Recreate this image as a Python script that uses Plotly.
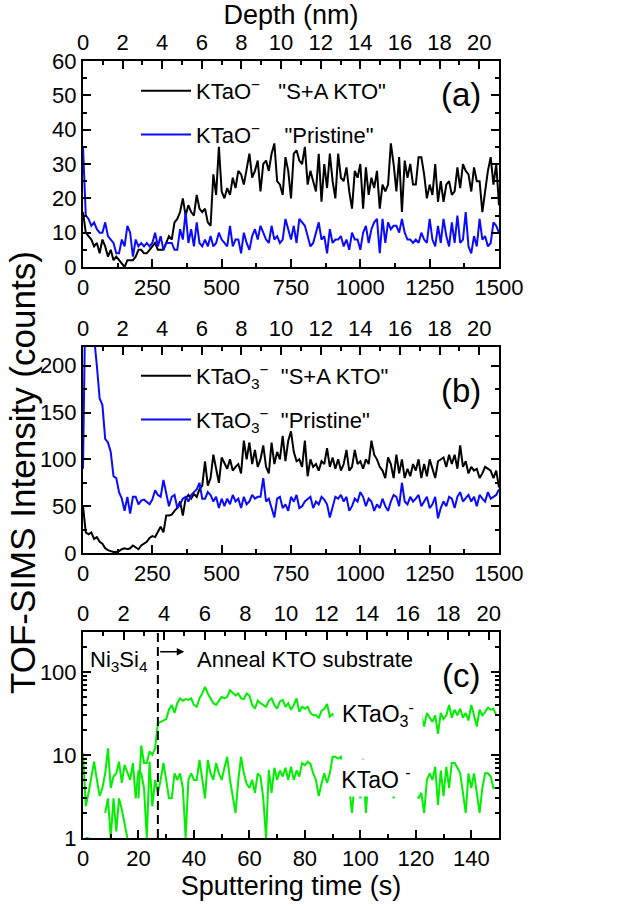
import math
import plotly.graph_objects as go

# ---------------- data ----------------
TIME_AB = list(range(0, 1501, 10))  # sputtering time (s) for panels a, b

KTAO_SA = [16, 10, 9, 8, 6, 7, 4, 8, 6, 3,
           5, 2, 3, 2, 1, 0, 2, 2, 2, 3,
           5, 5, 4, 4, 5, 6, 7, 5, 5, 5,
           7, 9, 8, 13, 14, 16, 20, 15, 18, 16,
           15, 21, 17, 16, 17, 13, 12, 27, 21, 35,
           22, 20, 23, 21, 26, 23, 28, 27, 24, 29,
           33, 26, 28, 31, 22, 30, 31, 28, 33, 36,
           25, 24, 21, 32, 28, 20, 33, 34, 31, 30,
           35, 24, 28, 25, 22, 33, 19, 30, 23, 33,
           25, 20, 33, 26, 25, 29, 22, 17, 28, 26,
           30, 17, 29, 21, 26, 23, 28, 17, 24, 22,
           24, 36, 30, 22, 32, 16, 31, 26, 30, 24,
           24, 32, 32, 27, 20, 24, 21, 30, 19, 25,
           19, 24, 25, 21, 22, 29, 23, 30, 28, 27,
           22, 29, 25, 25, 16, 22, 28, 32, 24, 30,
           18]

KTAO_PR = [35, 15, 14, 12, 13, 11, 10, 10, 13, 9,
           8, 7, 4, 4, 8, 6, 12, 10, 3, 8,
           6, 7, 6, 7, 6, 7, 10, 6, 9, 5,
           7, 7, 7, 5, 5, 11, 8, 16, 7, 11,
           6, 13, 7, 6, 8, 6, 9, 6, 7, 10,
           8, 7, 6, 12, 6, 8, 8, 4, 10, 7,
           5, 9, 11, 8, 12, 10, 8, 7, 12, 8,
           9, 7, 8, 14, 11, 8, 12, 7, 14, 13,
           12, 9, 6, 7, 10, 13, 8, 9, 4, 11,
           7, 8, 8, 9, 6, 8, 5, 10, 8, 8,
           5, 10, 12, 7, 11, 13, 14, 4, 14, 7,
           13, 11, 12, 12, 10, 14, 10, 8, 8, 7,
           8, 7, 10, 8, 7, 14, 8, 6, 12, 7,
           14, 9, 6, 13, 7, 15, 7, 8, 16, 6,
           4, 9, 6, 14, 8, 9, 6, 7, 13, 12,
           10]

KTAO3_SA = [50, 22, 20, 22, 15, 17, 12, 10, 5, 3,
            2, 1, 1, 2, 4, 5, 4, 5, 8, 6,
            4, 8, 10, 12, 16, 18, 17, 22, 28, 22,
            40, 40, 41, 45, 48, 55, 40, 58, 62, 58,
            63, 60, 68, 72, 98, 72, 80, 105, 90, 75,
            102, 95, 90, 100, 88, 92, 95, 85, 120, 100,
            118, 95, 110, 92, 100, 115, 92, 85, 118, 95,
            108, 100, 125, 98, 120, 130, 108, 98, 100, 92,
            120, 82, 100, 92, 95, 88, 98, 95, 112, 92,
            102, 90, 100, 88, 95, 110, 88, 92, 110, 95,
            98, 90, 100, 95, 120, 105, 100, 92, 88, 80,
            102, 95, 80, 105, 85, 100, 80, 90, 82, 95,
            88, 100, 80, 95, 82, 100, 90, 80, 98, 100,
            102, 92, 105, 95, 105, 90, 115, 92, 98, 85,
            92, 88, 90, 80, 85, 92, 90, 88, 80, 88,
            70]

KTAO3_PR = [90, 300, 290, 260, 235, 200, 165, 158, 122, 118,
            108, 82, 80, 65, 58, 45, 60, 42, 60, 60,
            52, 56, 57, 54, 52, 57, 67, 62, 60, 78,
            65, 50, 60, 62, 48, 52, 58, 60, 55, 62,
            65, 68, 75, 58, 58, 65, 62, 55, 60, 48,
            58, 50, 58, 52, 62, 55, 58, 48, 60, 52,
            55, 62, 58, 60, 60, 80, 55, 58, 48, 38,
            58, 60, 48, 52, 45, 60, 55, 62, 48, 50,
            55, 58, 60, 48, 55, 52, 60, 57, 52, 38,
            48, 60, 58, 62, 55, 60, 45, 50, 58, 55,
            65, 60, 50, 58, 55, 45, 52, 48, 58, 50,
            45, 55, 62, 60, 50, 75, 55, 52, 60, 55,
            58, 62, 50, 55, 60, 48, 52, 60, 37, 48,
            55, 50, 60, 58, 48, 60, 65, 55, 58, 62,
            55, 60, 50, 62, 58, 55, 65, 58, 60, 62,
            68]

TIME_C = list(range(0, 150))  # sputtering time (s) for panel c

KTAO3_C = [None, 1, 1, None, None, None, None, None, 2, 3,
           1, 3, 1.2, 3, 2.2, 1.5, 1, None, None, None,
           3, 13, 8, 8, 11, 10, 12, 24, 25, 26,
           27, 35, 40, 32, 42, 48, 45, 47, 46, 48,
           40, 38, 48, 55, 66, 55, 48, 42, 40, 45,
           50, 48, 50, 60, 55, 52, 55, 48, 47, 55,
           52, 40, 36, 45, 42, 40, 38, 45, 48, 40,
           36, 44, 46, 38, 42, 35, 40, 48, 33, 38,
           36, 38, 32, 30, 30, 28, 34, 36, 41, 29,
           31, 28, 33, 30, 27, 35, 29, 31, 26, 33,
           30, 28, 34, 27, 31, 29, 33, 26, 30, 32,
           28, 31, 27, 33, 29, 30, 26, 32, 28, 30,
           27, 31, 30, 22, 32, 28, 25, 30, 18, 32,
           27, 30, 40, 28, 35, 30, 36, 28, 32, 26,
           40, 30, 22, 35, 30, 33, 37, 35, 36, 30]

KTAO_C = [10.5, 2.4, 3.5, 5.5, 8.3, 5, 3.2, 4, 6, 12,
          4, 5.5, 6, 8.3, 4.6, 7.6, 6, 5, 8, 3,
          6.5, 6, 4, 1, 8.3, 2.4, 5, 3.5, 5, 8,
          5, 3, 3, 6, 5, 6, 4, 1, 5, 6,
          5, 5, 8.7, 5, 3, 8.7, 6, 5, 8, 6,
          5, 7, 9.5, 5, 3, 2, 5, 9.5, 6, 4.5,
          4, 5, 3.5, 6, 5.5, 3, 1, 6.6, 3.5, 7,
          5, 6.5, 5.5, 7, 5, 7.2, 5, 6.5, 5.5, 8,
          7.5, 8.3, 7.8, 6, 5, 3.2, 4.5, 6, 4.6, 6,
          9.5, 9.5, 9, 9.5, 5, 6, 4, 2, 5, 6,
          3, 9, 2, 6, 5, 4, 6, 5, 7, 4,
          5, 6, 3, 5, 6, 4, 5, 6, 7, 5,
          4, 3, 3.5, 2, 5, 6, 5, 7.2, 2.5, 6.5,
          3.2, 7.2, 4, 8, 8, 7, 6, 3.5, 2, 6,
          4, 6, 3.5, 2, 4, 6, 6, 5.5, 4, 4]

ANNEAL_START = 27      # s, boundary Ni3Si4 / KTO substrate
DEPTH_MAX_AB = 21.0    # nm, depth at 1500 s
DEPTH_MAX_C = 20.5     # nm, depth at 150 s

# ---------------- style ----------------
FONT = "Liberation Sans, Arial, sans-serif"
BLACK = "#000000"
BLUE = "#0a0aff"
GREEN = "#00f000"
W, H = 618, 908

def px_x(p):
    return p / W

def px_y(p):
    return 1 - p / H

XDOM = [px_x(83), px_x(499)]
DOM_A = [px_y(267), px_y(61)]
DOM_B = [px_y(553), px_y(347)]
DOM_C = [px_y(838), px_y(632)]

fig = go.Figure()

# panel a
fig.add_trace(go.Scatter(x=TIME_AB, y=KTAO_SA, mode="lines", xaxis="x", yaxis="y",
                         line=dict(color=BLACK, width=2),
                         name='KTaO<sup>\u2212</sup>   "S+A KTO"', legend="legend",
                         legendgroup="a1"))
fig.add_trace(go.Scatter(x=TIME_AB, y=KTAO_PR, mode="lines", xaxis="x", yaxis="y",
                         line=dict(color=BLUE, width=2),
                         name='KTaO<sup>\u2212</sup>    "Pristine"', legend="legend",
                         legendgroup="a2"))
# panel b
fig.add_trace(go.Scatter(x=TIME_AB, y=KTAO3_SA, mode="lines", xaxis="x2", yaxis="y2",
                         line=dict(color=BLACK, width=2),
                         name='KTaO<sub>3</sub><sup>\u2212</sup>  "S+A KTO"', legend="legend2",
                         legendgroup="b1"))
fig.add_trace(go.Scatter(x=TIME_AB, y=KTAO3_PR, mode="lines", xaxis="x2", yaxis="y2",
                         line=dict(color=BLUE, width=2),
                         name='KTaO<sub>3</sub><sup>\u2212</sup>  "Pristine"', legend="legend2",
                         legendgroup="b2"))
# panel c
fig.add_trace(go.Scatter(x=TIME_C, y=KTAO_C, mode="lines", xaxis="x3", yaxis="y3",
                         line=dict(color=GREEN, width=2), showlegend=False))
fig.add_trace(go.Scatter(x=TIME_C, y=KTAO3_C, mode="lines", xaxis="x3", yaxis="y3",
                         line=dict(color=GREEN, width=2), showlegend=False))
# invisible carriers for depth axes
for xa, ya in (("x4", "y"), ("x5", "y2"), ("x6", "y3")):
    fig.add_trace(go.Scatter(x=[None], y=[None], xaxis=xa, yaxis=ya, showlegend=False,
                             hoverinfo="skip"))

tickfont = dict(family=FONT, size=22, color=BLACK)

def xbottom(rng, dtick, minor, anchor, title=None):
    d = dict(domain=XDOM, anchor=anchor, range=rng, dtick=dtick, tick0=0, automargin=False,
             ticks="inside", ticklen=8, tickwidth=1.5, tickcolor=BLACK,
             minor=dict(ticks="inside", ticklen=4, dtick=minor, tickwidth=1.5, tickcolor=BLACK),
             showline=True, linewidth=2, linecolor=BLACK, mirror=True,
             showgrid=False, zeroline=False, tickfont=tickfont, side="bottom")
    if title:
        d["title"] = dict(text=title, font=dict(family=FONT, size=27, color=BLACK), standoff=2)
    return d

def xtop(rng, overlay, anchor, title=None):
    d = dict(overlaying=overlay, anchor=anchor, side="top", range=rng, dtick=2, tick0=0,
             automargin=False,
             ticks="inside", ticklen=8, tickwidth=1.5, tickcolor=BLACK,
             minor=dict(ticks="inside", ticklen=4, dtick=1, tickwidth=1.5, tickcolor=BLACK),
             showline=True, linewidth=2, linecolor=BLACK,
             showgrid=False, zeroline=False, tickfont=tickfont)
    if title:
        d["title"] = dict(text=title, font=dict(family=FONT, size=27, color=BLACK), standoff=0)
    return d

def yax(dom, rng, dtick, minor, anchor, typ="linear"):
    return dict(domain=dom, anchor=anchor, range=rng, dtick=dtick, tick0=0, type=typ,
                automargin=False,
                ticks="inside", ticklen=8, tickwidth=1.5, tickcolor=BLACK,
                minor=dict(ticks="inside", ticklen=4, dtick=minor, tickwidth=1.5, tickcolor=BLACK),
                showline=True, linewidth=2, linecolor=BLACK, mirror="ticks",
                showgrid=False, zeroline=False, tickfont=tickfont)

legend_font = dict(family=FONT, size=22, color=BLACK)

fig.update_layout(
    width=W, height=H, margin=dict(l=0, r=0, t=0, b=0, autoexpand=False),
    paper_bgcolor="white", plot_bgcolor="white",
    font=dict(family=FONT, color=BLACK),
    xaxis=xbottom([0, 1500], 250, 125, "y"),
    xaxis4=xtop([0, DEPTH_MAX_AB], "x", "y", "Depth (nm)"),
    yaxis=yax(DOM_A, [0, 60], 10, 5, "x"),
    xaxis2=xbottom([0, 1500], 250, 125, "y2"),
    xaxis5=xtop([0, DEPTH_MAX_AB], "x2", "y2"),
    yaxis2=yax(DOM_B, [0, 220], 50, 25, "x2"),
    xaxis3=xbottom([0, 150], 20, 10, "y3", "Sputtering time (s)"),
    xaxis6=xtop([0, DEPTH_MAX_C], "x3", "y3"),
    yaxis3=yax(DOM_C, [0, 2.48], 1, "D1", "x3", typ="log"),
    legend=dict(x=px_x(136), y=px_y(70), xanchor="left", yanchor="top", itemwidth=50,
                bgcolor="rgba(0,0,0,0)", font=legend_font, tracegroupgap=12),
    legend2=dict(x=px_x(136), y=px_y(355), xanchor="left", yanchor="top", itemwidth=50,
                 bgcolor="rgba(0,0,0,0)", font=legend_font, tracegroupgap=12),
)
fig.layout.yaxis3.tickvals = [1, 10, 100]
fig.layout.yaxis3.ticktext = ["1", "10", "100"]

# dashed boundary line in panel c
fig.add_shape(type="line", xref="x3", yref="y3 domain", x0=ANNEAL_START, x1=ANNEAL_START,
              y0=0, y1=1, line=dict(color=BLACK, width=2, dash="9px,5px"))

ann = []
ann.append(dict(text="TOF-SIMS Intensity (counts)", xref="paper", yref="paper",
                x=px_x(22), y=px_y(473), textangle=-90, showarrow=False,
                font=dict(family=FONT, size=35, color=BLACK), xanchor="center", yanchor="middle"))
for lab, xr, yr, yy in (("(a)", "x", "y", 0.835), ("(b)", "x2", "y2", 0.79),
                        ("(c)", "x3", "y3", 0.79)):
    ann.append(dict(text=lab, xref=xr + " domain", yref=yr + " domain", x=0.909, y=yy,
                    xanchor="center", yanchor="middle", showarrow=False,
                    font=dict(family=FONT, size=33, color=BLACK)))
ann.append(dict(text="Ni<sub>3</sub>Si<sub>4</sub>", xref="x3 domain", yref="y3 domain",
                x=0.012, y=0.86, xanchor="left", yanchor="middle", showarrow=False,
                font=dict(family=FONT, size=22, color=BLACK)))
ann.append(dict(text="Anneal KTO substrate", xref="x3 domain", yref="y3 domain",
                x=0.27, y=0.865, xanchor="left", yanchor="middle", showarrow=False,
                font=dict(family=FONT, size=22, color=BLACK)))
arrow_y = math.log10(175)
ann.append(dict(text="", xref="x3", yref="y3", x=ANNEAL_START + 9.5, y=arrow_y,
                axref="x3", ayref="y3", ax=ANNEAL_START + 0.3, ay=arrow_y,
                showarrow=True, arrowhead=2, arrowsize=1, arrowwidth=1.5, arrowcolor=BLACK))
ann.append(dict(text="KTaO<sub>3</sub><sup>-</sup>", xref="x3 domain", yref="y3 domain",
                x=0.71, y=0.6, xanchor="center", yanchor="middle", showarrow=False,
                bgcolor="white", width=86, height=44,
                font=dict(family=FONT, size=23, color=BLACK)))
ann.append(dict(text="KTaO <sup>-</sup>", xref="x3 domain", yref="y3 domain",
                x=0.705, y=0.29, xanchor="center", yanchor="middle", showarrow=False,
                bgcolor="white", width=82, height=34,
                font=dict(family=FONT, size=23, color=BLACK)))
fig.update_layout(annotations=ann)

fig.write_html("out.html")
